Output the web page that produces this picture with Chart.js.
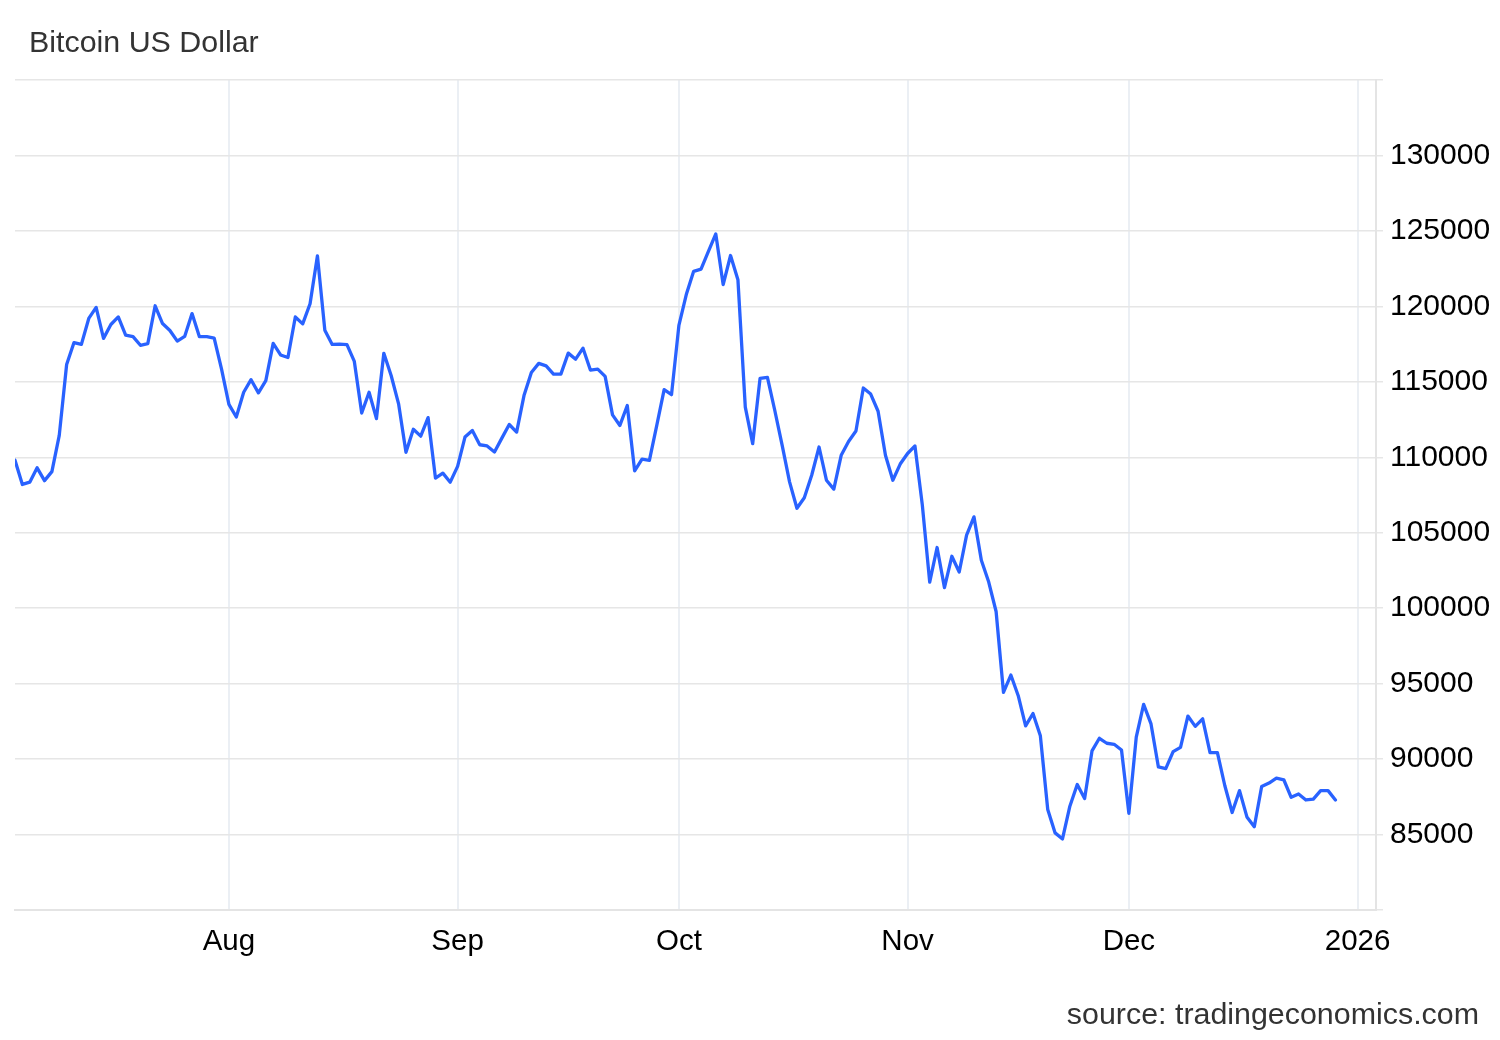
<!DOCTYPE html>
<html>
<head>
<meta charset="utf-8">
<script src="https://cdn.jsdelivr.net/npm/chart.js@4.4.1/dist/chart.umd.min.js"></script>
<style>
  html, body { margin: 0; padding: 0; background: #ffffff; }
  #wrap { position: relative; width: 1500px; height: 1040px; overflow: hidden; }
  #c { position: absolute; left: 0; top: 0; }
  .txt { position: absolute; font-family: "Liberation Sans", Arial, Helvetica, sans-serif; font-size: 30.4px; line-height: 30px; color: #333333; white-space: nowrap; }
  #title { left: 29px; top: 25.5px; }
  #source { right: 21px; top: 997.5px; }
</style>
</head>
<body>
<div id="wrap">
  <canvas id="c" width="1500" height="1040"></canvas>
  <div class="txt" id="title">Bitcoin US Dollar</div>
  <div class="txt" id="source">source: tradingeconomics.com</div>
</div>
<script>
// ---- Data ----
const seriesName = 'Bitcoin US Dollar';
const startDate = '2025-07-03';   // first daily observation
const endAxisDate = '2026-01-03T12:00:00Z';
const prices = [
  109800, 108200, 108350, 109300, 108450, 109050, 111450, 116150, 117600, 117480,
  119200, 119930, 117880, 118800, 119300, 118100, 117990, 117420, 117530, 120040,
  118860, 118400, 117700, 118010, 119520, 117990, 117990, 117900, 115840, 113500,
  112670, 114310, 115140, 114270, 115080, 117550, 116780, 116610, 119300, 118840,
  120170, 123350, 118420, 117480, 117500, 117460, 116350, 112930, 114310, 112560,
  116890, 115400, 113540, 110330, 111860, 111400, 112630, 108620, 108950, 108350,
  109400, 111340, 111780, 110830, 110750, 110350, 111270, 112170, 111670, 114090,
  115620, 116220, 116060, 115510, 115510, 116900, 116500, 117230, 115780, 115840,
  115360, 112810, 112110, 113430, 109100, 109870, 109800, 112110, 114480, 114150,
  118740, 120780, 122320, 122470, 123640, 124800, 121440, 123370, 121770, 113320,
  110900, 115230, 115300, 113100, 110790, 108370, 106620, 107320, 108810, 110680,
  108480, 107890, 110130, 111050, 111740, 114590, 114190, 113050, 110130, 108480,
  109550, 110250, 110750, 106830, 101730, 104020, 101360, 103440, 102400, 104840,
  106050, 103170, 101730, 99780, 94420, 95570, 94200, 92200, 93020, 91540,
  86660, 85110, 84710, 86880, 88320, 87390, 90540, 91380, 91050, 90980,
  90600, 86410, 91450, 93630, 92330, 89480, 89370, 90490, 90780, 92850,
  92170, 92670, 90430, 90430, 88250, 86460, 87910, 86170, 85520, 88180,
  88410, 88740, 88630, 87470, 87690, 87290, 87350, 87910, 87910, 87290
];
const monthTickDates = ['2025-08-01', '2025-09-01', '2025-10-01', '2025-11-01', '2025-12-01', '2026-01-01'];
const monthTickLabels = ['Aug', 'Sep', 'Oct', 'Nov', 'Dec', '2026'];
const yMin = 80000, yMax = 135000, yStep = 5000;
const hiddenYLabels = [80000, 135000];

// ---- Helpers ----
const DAY = 86400000;
const t0 = Date.parse(startDate + 'T00:00:00Z');
const dayOf = s => (Date.parse(s.length > 10 ? s : s + 'T00:00:00Z') - t0) / DAY;
const tickDays = monthTickDates.map(dayOf);
const points = prices.map((p, i) => ({ x: i, y: p }));
const FONT = '"Liberation Sans", Arial, Helvetica, sans-serif';

new Chart(document.getElementById('c'), {
  type: 'line',
  data: {
    datasets: [{
      label: seriesName,
      data: points,
      borderColor: '#2962ff',
      borderWidth: 3.3,
      pointRadius: 0,
      tension: 0,
      fill: false,
      borderJoinStyle: 'round',
      borderCapStyle: 'round'
    }]
  },
  options: {
    responsive: false,
    animation: false,
    devicePixelRatio: 1,
    layout: { padding: { left: 15, right: 0, top: 80, bottom: 0 } },
    plugins: { legend: { display: false }, tooltip: { enabled: false }, title: { display: false } },
    scales: {
      x: {
        type: 'linear',
        min: 0,
        max: dayOf(endAxisDate),
        afterBuildTicks: s => { s.ticks = tickDays.map(v => ({ value: v })); },
        afterFit: s => { s.height = 130; },
        ticks: {
          autoSkip: false, maxRotation: 0, padding: 14,
          color: '#000000',
          font: { family: FONT, size: 29.5 },
          callback: (v, i) => monthTickLabels[i]
        },
        grid: { color: '#ebeff4', lineWidth: 2, drawTicks: false },
        border: { color: '#e4e4e4', width: 2 }
      },
      y: {
        position: 'right',
        min: yMin, max: yMax,
        afterFit: s => { s.width = 124; },
        ticks: {
          stepSize: yStep, padding: 7,
          color: '#000000',
          font: { family: FONT, size: 30 },
          callback: v => hiddenYLabels.includes(v) ? '' : String(v)
        },
        grid: { color: '#e6e6e6', lineWidth: 1.5, tickLength: 7 },
        border: { color: '#e4e4e4', width: 2 }
      }
    }
  }
});
</script>
</body>
</html>
